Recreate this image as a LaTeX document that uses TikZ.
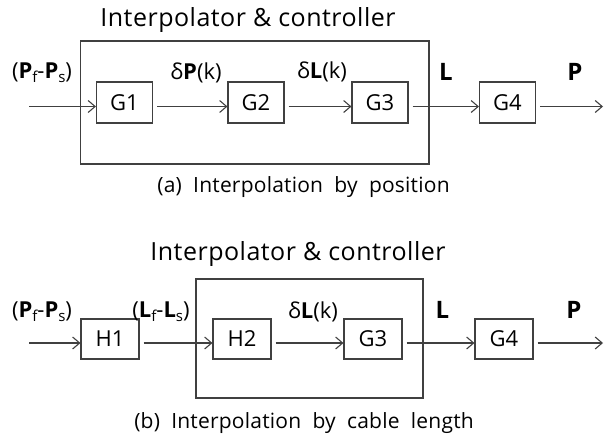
\documentclass[tikz,border=0pt]{standalone}
\usepackage{fontspec}
\setmainfont{Open Sans}
\usepackage{tikz}
\usetikzlibrary{arrows.meta, positioning}
\definecolor{linegray}{HTML}{404040}
\newcommand{\lowidx}[1]{\raisebox{-4pt}{\fontsize{15}{15}\selectfont #1}}

\begin{document}
\begin{tikzpicture}[x=1pt, y=-1pt, >={Straight Barb[length=7pt, width=12pt]},
  block/.style={draw=linegray, line width=1.1pt, minimum width=56pt, minimum height=41pt,
    inner sep=0pt, font=\fontsize{22}{24}\selectfont},
  sig/.style={inner sep=0pt, font=\fontsize{22}{24}\selectfont},
  flow/.style={->, draw=linegray, line width=1.1pt, shorten <=4pt},
  frame/.style={draw=linegray, line width=1.1pt},
  title/.style={inner sep=0pt, font=\fontsize{25}{28}\selectfont\addfontfeatures{LetterSpace=2}},
  caption/.style={inner sep=0pt, font=\fontsize{21}{24}\selectfont\addfontfeatures{LetterSpace=1}}]
  \useasboundingbox (0,0) rectangle (604,439);

  % (a) interpolation by position
  \draw[frame] (80.5,41) rectangle (429,164);
  \node[title] (ttla) at (248,20) {Interpolator \& controller};
  \node[block] (ga1) at (124.5,102.5) {G1};
  \node[block] (ga2) at (256,102.5) {G2};
  \node[block] (ga3) at (380,102.5) {G3};
  \node[block] (ga4) at (507.5,102.5) {G4};
  \coordinate (ina) at (29,106.5);
  \coordinate (outa) at (603,106.5);
  \draw[flow, shorten <=0pt] (ina) -- ([yshift=-4pt]ga1.west);
  \draw[flow] ([yshift=-4pt]ga1.east) -- ([yshift=-4pt]ga2.west);
  \draw[flow] ([yshift=-4pt]ga2.east) -- ([yshift=-4pt]ga3.west);
  \draw[flow] ([yshift=-4pt]ga3.east) -- ([yshift=-4pt]ga4.west);
  \draw[flow] ([yshift=-4pt]ga4.east) -- (outa);
  % signal names
  \node[sig] (pfa) at (42,73) {(\textbf{P}\lowidx{f}-\textbf{P}\lowidx{s})};
  \node[sig] (dpa) at (196,73) {δ\textbf{P}(k)};
  \node[sig] (dla) at (322,72) {δ\textbf{L}(k)};
  \node[sig, font=\fontsize{24}{26}\selectfont] (la) at (446,71.5) {\textbf{L}};
  \node[sig, font=\fontsize{24}{26}\selectfont] (pa) at (575,71.5) {\textbf{P}};
  \node[caption] (capa) at (303.5,187) {(a)\ \ Interpolation\ \ by\ \ position};

  % (b) interpolation by cable length
  \draw[frame] (196,279) rectangle (423,398);
  \node[title] (ttlb) at (298,254) {Interpolator \& controller};
  \node[block, minimum width=58pt, minimum height=40pt] (hb1) at (110,339) {H1};
  \node[block, minimum width=58pt, minimum height=40pt] (hb2) at (242,339) {H2};
  \node[block, minimum width=58pt, minimum height=40pt] (gb3) at (373,339) {G3};
  \node[block, minimum width=58pt, minimum height=40pt] (gb4) at (504,339) {G4};
  \coordinate (inb) at (29,343);
  \coordinate (outb) at (603,343);
  \draw[flow, shorten <=0pt] (inb) -- ([yshift=-4pt]hb1.west);
  \draw[flow] ([yshift=-4pt]hb1.east) -- ([yshift=-4pt]hb2.west);
  \draw[flow] ([yshift=-4pt]hb2.east) -- ([yshift=-4pt]gb3.west);
  \draw[flow] ([yshift=-4pt]gb3.east) -- ([yshift=-4pt]gb4.west);
  \draw[flow] ([yshift=-4pt]gb4.east) -- (outb);
  % signal names
  \node[sig] (pfb) at (42,312) {(\textbf{P}\lowidx{f}-\textbf{P}\lowidx{s})};
  \node[sig] (lfb) at (161,312) {(\textbf{L}\lowidx{f}-\textbf{L}\lowidx{s})};
  \node[sig] (dlb) at (313,312) {δ\textbf{L}(k)};
  \node[sig, font=\fontsize{24}{26}\selectfont] (lb) at (442.5,310) {\textbf{L}};
  \node[sig, font=\fontsize{24}{26}\selectfont] (pb) at (574,310) {\textbf{P}};
  \node[caption] (capb) at (304,423) {(b)\ \ Interpolation\ \ by\ \ cable\ \ length};
\end{tikzpicture}
\end{document}
